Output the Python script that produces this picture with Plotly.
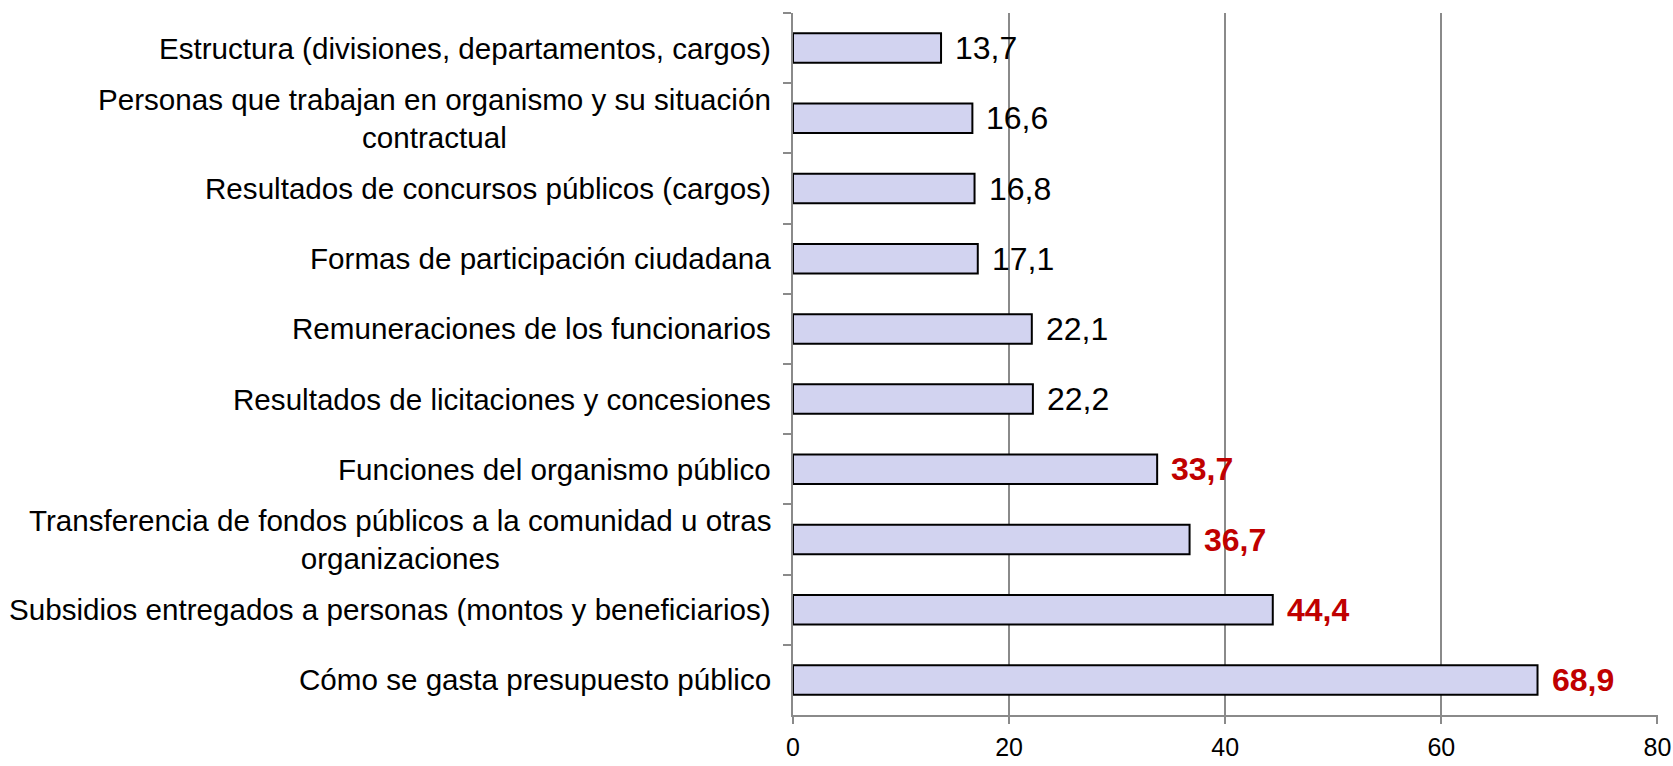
import plotly.graph_objects as go

categories = [
    "Estructura (divisiones, departamentos, cargos)",
    "Personas que trabajan en organismo y su situación<br>contractual",
    "Resultados de concursos públicos (cargos)",
    "Formas de participación ciudadana",
    "Remuneraciones de los funcionarios",
    "Resultados de licitaciones y concesiones",
    "Funciones del organismo público",
    "Transferencia de fondos públicos a la comunidad u otras<br>organizaciones",
    "Subsidios entregados a personas (montos y beneficiarios)",
    "Cómo se gasta presupuesto público",
]
values = [13.7, 16.6, 16.8, 17.1, 22.1, 22.2, 33.7, 36.7, 44.4, 68.9]
highlight = [False, False, False, False, False, False, True, True, True, True]
x_ticks = [0, 20, 40, 60, 80]

FONT = "Liberation Sans, Arial, sans-serif"
GRID = "#8a8a8a"

fig = go.Figure()
fig.add_trace(go.Bar(
    x=values,
    y=categories,
    orientation="h",
    marker=dict(color="#D2D3F0", line=dict(color="#000000", width=2)),
    width=0.42,
    hoverinfo="x+y",
))

annotations = []
for cat, v, hl in zip(categories, values, highlight):
    label = f"{v:.1f}".replace(".", ",")
    annotations.append(dict(
        x=v, y=cat, xref="x", yref="y",
        text=f"<b>{label}</b>" if hl else label,
        showarrow=False, xanchor="left", yanchor="middle", xshift=12,
        font=dict(family=FONT, size=32, color="#C00000" if hl else "#000000"),
    ))
    annotations.append(dict(
        x=0, y=cat, xref="paper", yref="y",
        text=cat, align="center",
        showarrow=False, xanchor="right", yanchor="middle", xshift=-20,
        font=dict(family=FONT, size=29.6, color="#000000"),
    ))

fig.update_layout(
    width=1673, height=766, autosize=False,
    margin=dict(l=793, r=15, t=13, b=51),
    paper_bgcolor="white", plot_bgcolor="white",
    showlegend=False,
    annotations=annotations,
    font=dict(family=FONT, color="#000000"),
)
fig.update_xaxes(
    range=[0, 80.05], tickvals=x_ticks, ticktext=[str(t) for t in x_ticks],
    automargin=False,
    showgrid=True, gridcolor=GRID, gridwidth=2,
    showline=True, linecolor=GRID, linewidth=2,
    ticks="outside", ticklen=7, tickcolor=GRID, tickwidth=2,
    ticklabelstandoff=2,
    tickfont=dict(family=FONT, size=25, color="#000000"),
    zeroline=False,
)
fig.update_yaxes(
    type="category", autorange="reversed", automargin=False,
    showticklabels=False,
    showgrid=False, zeroline=False,
    showline=True, linecolor=GRID, linewidth=2,
    ticks="outside", tickson="boundaries", ticklen=8, tickcolor=GRID, tickwidth=2,
)

fig.write_html(
    "out.html",
    config={"displayModeBar": False, "responsive": False},
    post_script="document.body.style.margin='0';document.body.style.overflow='hidden';",
)
